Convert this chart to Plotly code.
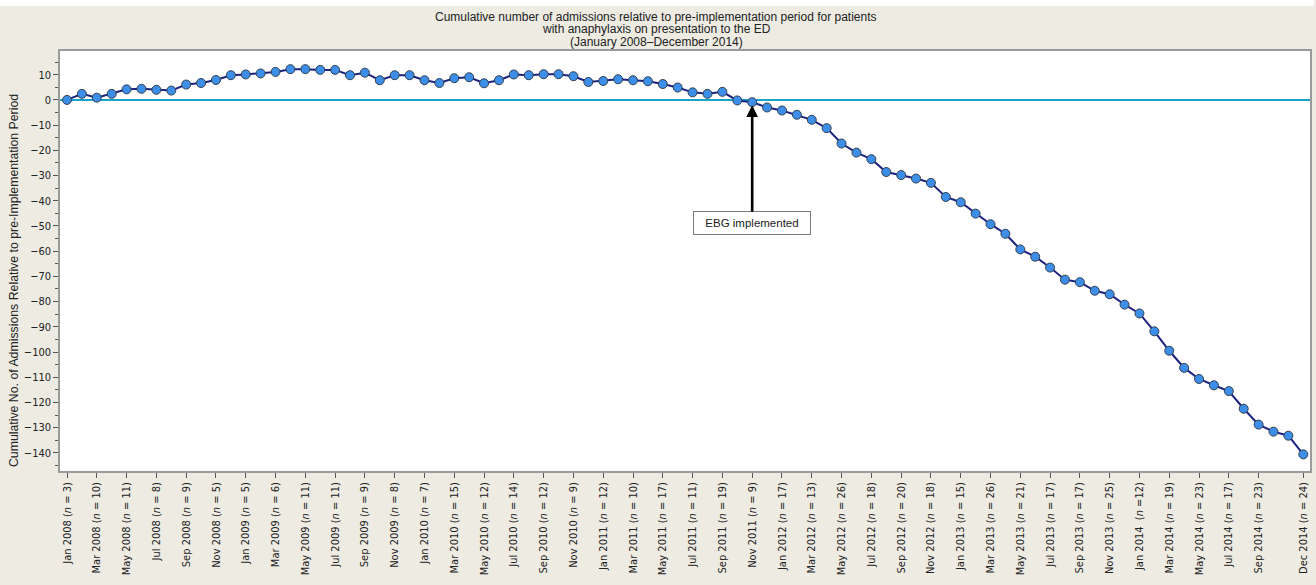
import plotly.graph_objects as go

# Monthly categories, Jan 2008 – Dec 2014
month_names = ["Jan", "Feb", "Mar", "Apr", "May", "Jun",
               "Jul", "Aug", "Sep", "Oct", "Nov", "Dec"]
years = [2008, 2009, 2010, 2011, 2012, 2013, 2014]
months = [f"{m} {y}" for y in years for m in month_names]

# Cumulative number of admissions relative to the pre-implementation period
cum_2008 = [0.0, 2.4, 0.9, 2.4, 4.2, 4.4, 4.0, 3.7, 6.1, 6.7, 7.9, 9.8]
cum_2009 = [10.1, 10.5, 11.1, 12.2, 12.2, 11.9, 11.9, 9.8, 10.8, 7.8, 9.8, 9.8]
cum_2010 = [7.8, 6.7, 8.6, 9.0, 6.6, 7.8, 10.1, 9.8, 10.2, 10.2, 9.4, 7.1]
cum_2011 = [7.5, 8.2, 7.8, 7.4, 6.3, 4.9, 3.0, 2.4, 3.2, -0.2, -0.9, -3.0]
cum_2012 = [-4.2, -5.9, -7.9, -11.2, -17.3, -20.9, -23.5, -28.6, -29.8, -31.2, -32.9, -38.5]
cum_2013 = [-40.6, -45.1, -49.3, -53.1, -59.3, -62.2, -66.5, -71.3, -72.3, -75.7, -77.1, -81.2]
cum_2014 = [-84.7, -91.8, -99.5, -106.3, -110.7, -113.2, -115.5, -122.5, -128.8, -131.6, -133.2, -140.6]
cumulative = cum_2008 + cum_2009 + cum_2010 + cum_2011 + cum_2012 + cum_2013 + cum_2014

# Labelled months on the x axis and their admission counts
tick_months = [
    "Jan 2008", "Mar 2008", "May 2008", "Jul 2008", "Sep 2008", "Nov 2008",
    "Jan 2009", "Mar 2009", "May 2009", "Jul 2009", "Sep 2009", "Nov 2009",
    "Jan 2010", "Mar 2010", "May 2010", "Jul 2010", "Sep 2010", "Nov 2010",
    "Jan 2011", "Mar 2011", "May 2011", "Jul 2011", "Sep 2011", "Nov 2011",
    "Jan 2012", "Mar 2012", "May 2012", "Jul 2012", "Sep 2012", "Nov 2012",
    "Jan 2013", "Mar 2013", "May 2013", "Jul 2013", "Sep 2013", "Nov 2013",
    "Jan 2014", "Mar 2014", "May 2014", "Jul 2014", "Sep 2014", "Dec 2014",
]
tick_n = [
    3, 10, 11, 8, 9, 5,
    5, 6, 11, 11, 9, 8,
    7, 15, 12, 14, 12, 9,
    12, 10, 17, 11, 19, 9,
    17, 13, 26, 18, 20, 18,
    15, 26, 21, 17, 17, 25,
    12, 19, 23, 17, 23, 24,
]
tick_text = [
    (f"{m}  (<i>n</i> ={n})" if m == "Jan 2014" else f"{m} (<i>n</i> = {n})")
    for m, n in zip(tick_months, tick_n)
]

title_lines = [
    "Cumulative number of admissions relative to pre-implementation period for patients",
    "with anaphylaxis on presentation to the ED",
    "(January 2008–December 2014)",
]
y_title = "Cumulative No. of Admissions Relative to pre-Implementation Period"

implementation_month = "Nov 2011"
implementation_value = cum_2011[10]

W, H = 1316, 585
M_L, M_R, M_T, M_B = 60, 4, 51, 114
PLOT_H = H - M_T - M_B
PLOT_W = W - M_L - M_R

BG = "#EDEBE2"
TEXT = "#222222"
ARIAL = "Liberation Sans, Arial, sans-serif"


def paper_y(px):
    """Convert a pixel row of the page into paper coordinates."""
    return (H - M_B - px) / PLOT_H


def paper_x(px):
    """Convert a pixel column of the page into paper coordinates."""
    return (px - M_L) / PLOT_W


fig = go.Figure()
fig.add_trace(go.Scatter(
    x=months,
    y=cumulative,
    mode="lines+markers",
    line=dict(color="#1C2280", width=2),
    marker=dict(size=9, color="#3C8EE8", line=dict(color="#34404F", width=1)),
    showlegend=False,
    hoverinfo="x+y",
))

# Thin white strip along the top edge of the page
fig.add_shape(type="rect", xref="paper", yref="paper",
              x0=paper_x(0), x1=paper_x(W), y0=paper_y(6), y1=paper_y(0),
              fillcolor="#FFFFFF", line=dict(width=0), layer="below")

# Three-line title with tight line spacing
for row, line in zip([17, 29.5, 42], title_lines):
    fig.add_annotation(
        text=line, xref="paper", yref="paper",
        x=paper_x(657), y=paper_y(row), xanchor="center", yanchor="middle",
        showarrow=False,
        font=dict(family=ARIAL, size=12, color=TEXT),
    )

# Vertical axis title
fig.add_annotation(
    text=y_title, xref="paper", yref="paper",
    x=paper_x(14), y=paper_y(281), xanchor="center", yanchor="middle",
    textangle=-90, showarrow=False,
    font=dict(family=ARIAL, size=12.3, color=TEXT),
)

fig.add_annotation(
    x=implementation_month, y=implementation_value,
    xref="x", yref="y",
    text="EBG implemented",
    showarrow=True,
    arrowhead=2, arrowsize=0.9, arrowwidth=2.6, arrowcolor="#000000",
    ax=0, ay=121, standoff=3,
    bgcolor="#FFFFFF", bordercolor="#7A7A7A", borderwidth=1, borderpad=3,
    width=110, height=16,
    font=dict(family=ARIAL, size=11.5, color=TEXT),
)

fig.update_layout(
    width=W, height=H,
    paper_bgcolor=BG, plot_bgcolor="#FFFFFF",
    margin=dict(l=M_L, r=M_R, t=M_T, b=M_B),
    font=dict(family="DejaVu Sans Condensed, DejaVu Sans, sans-serif", size=11, color=TEXT),
    xaxis=dict(
        type="category",
        range=[-0.47, 83.45],
        tickmode="array", tickvals=tick_months, ticktext=tick_text,
        tickangle=-90,
        ticks="outside", ticklen=5, tickcolor="#555555",
        showline=True, linecolor="#9A9A9A", linewidth=1.5, mirror=True,
        showgrid=False, zeroline=False,
        tickfont=dict(size=11),
    ),
    yaxis=dict(
        range=[-147.2, 19.4],
        dtick=10, tick0=0,
        ticks="outside", ticklen=5, tickcolor="#555555",
        minor=dict(dtick=5, ticks="outside", ticklen=3, tickcolor="#555555"),
        showline=True, linecolor="#9A9A9A", linewidth=1.5, mirror=True,
        showgrid=False,
        zeroline=True, zerolinecolor="#1AA3C8", zerolinewidth=1.5,
        tickfont=dict(size=11),
    ),
)

fig.write_html("out.html")
